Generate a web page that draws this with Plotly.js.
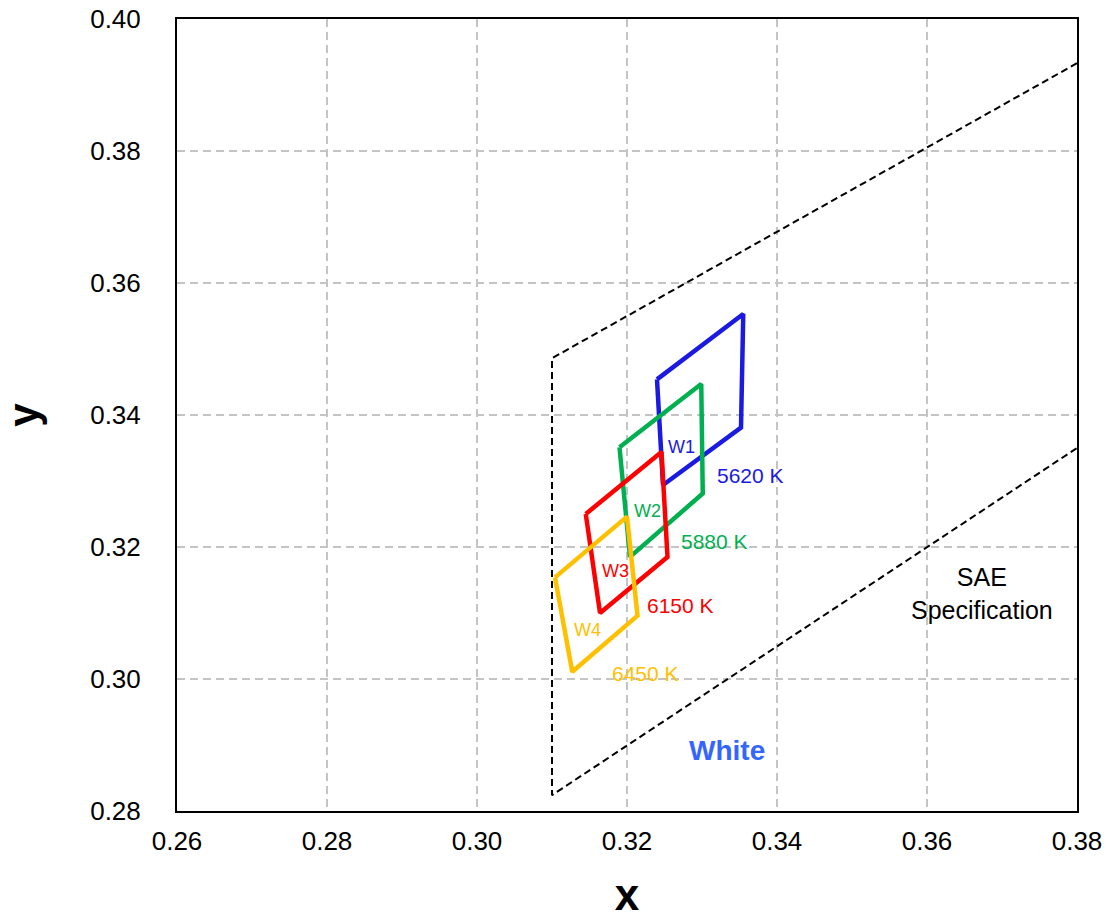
<!DOCTYPE html>
<html><head><meta charset="utf-8">
<script src="https://cdn.plot.ly/plotly-3.0.1.min.js"></script>
<style>html,body{margin:0;padding:0;background:#fff}#c{width:1110px;height:919px}</style>
</head><body><div id="c"></div>
<script>
// SAE white boundary (dashed)
const saeX = [0.38, 0.31, 0.31, 0.38];
const saeY = [0.3933, 0.3486, 0.2824, 0.335];

// Quadrangles (closed)
const w1X = [0.3240, 0.3355, 0.3352, 0.3248, 0.3240];
const w1Y = [0.3454, 0.3553, 0.3381, 0.3294, 0.3454];
const w2X = [0.3190, 0.3299, 0.3301, 0.3204, 0.3190];
const w2Y = [0.3351, 0.3447, 0.3281, 0.3185, 0.3351];
const w3X = [0.3145, 0.3246, 0.3254, 0.3164, 0.3145];
const w3Y = [0.3250, 0.3344, 0.3185, 0.3100, 0.3250];
const w4X = [0.3104, 0.3200, 0.3214, 0.3127, 0.3104];
const w4Y = [0.3154, 0.3246, 0.3096, 0.3011, 0.3154];

const quadNames = ["W1", "W2", "W3", "W4"];
const quadCCT = ["5620 K", "5880 K", "6150 K", "6450 K"];
const quadColors = ["#1a1ae0", "#00b050", "#ff0000", "#ffc000"];
const nameX = [0.3273, 0.3227, 0.3185, 0.3147];
const nameY = [0.3352, 0.3255, 0.3164, 0.3074];
const cctX = [0.3364, 0.3316, 0.3271, 0.3224];
const cctY = [0.3308, 0.3209, 0.3112, 0.3008];

const quadsX = [w1X, w2X, w3X, w4X];
const quadsY = [w1Y, w2Y, w3Y, w4Y];

const traces = [{
  x: saeX, y: saeY, mode: 'lines', type: 'scatter',
  line: {color: '#000', width: 2, dash: '7px,4px'}, hoverinfo: 'skip'
}];
quadsX.forEach((qx, i) => {
  traces.push({x: qx, y: quadsY[i], mode: 'lines', type: 'scatter',
    line: {color: quadColors[i], width: 4.5}});
});

const annotations = [];
quadNames.forEach((n, i) => {
  annotations.push({x: nameX[i], y: nameY[i], text: n, showarrow: false,
    font: {family: 'Liberation Sans, Arial', size: 18, color: quadColors[i]}});
  annotations.push({x: cctX[i], y: cctY[i], text: quadCCT[i], showarrow: false,
    font: {family: 'Liberation Sans, Arial', size: 21, color: quadColors[i]}});
});
annotations.push({x: 0.3333, y: 0.2891, text: '<b>White</b>', showarrow: false,
  font: {family: 'Liberation Sans, Arial', size: 28, color: '#3366ff'}});
annotations.push({x: 0.3673, y: 0.3129, text: 'SAE<br>Specification', showarrow: false,
  font: {family: 'Liberation Sans, Arial', size: 25, color: '#000'}});

const layout = {
  width: 1110, height: 919,
  margin: {l: 177, r: 33, t: 19, b: 108},
  showlegend: false,
  paper_bgcolor: '#fff', plot_bgcolor: '#fff',
  font: {family: 'Liberation Sans, Arial', color: '#000'},
  xaxis: {range: [0.26, 0.38], dtick: 0.02, tickformat: '.2f',
    showgrid: true, gridcolor: '#c4c4c4', griddash: '8px,5px', gridwidth: 1.5,
    zeroline: false, showline: true, linecolor: '#000', linewidth: 2, mirror: true,
    ticks: '', ticklabelstandoff: 6, tickfont: {size: 26},
    title: {text: '<b>x</b>', font: {size: 44}, standoff: 30}},
  yaxis: {range: [0.28, 0.40], dtick: 0.02, tickformat: '.2f',
    showgrid: true, gridcolor: '#c4c4c4', griddash: '8px,5px', gridwidth: 1.5,
    zeroline: false, showline: true, linecolor: '#000', linewidth: 2, mirror: true,
    ticks: '', ticklabelstandoff: 29, tickfont: {size: 26},
    title: {text: '<b>y</b>', font: {size: 42}, standoff: 43}},
  annotations: annotations
};
Plotly.newPlot('c', traces, layout, {displayModeBar: false, staticPlot: true});
</script></body></html>
